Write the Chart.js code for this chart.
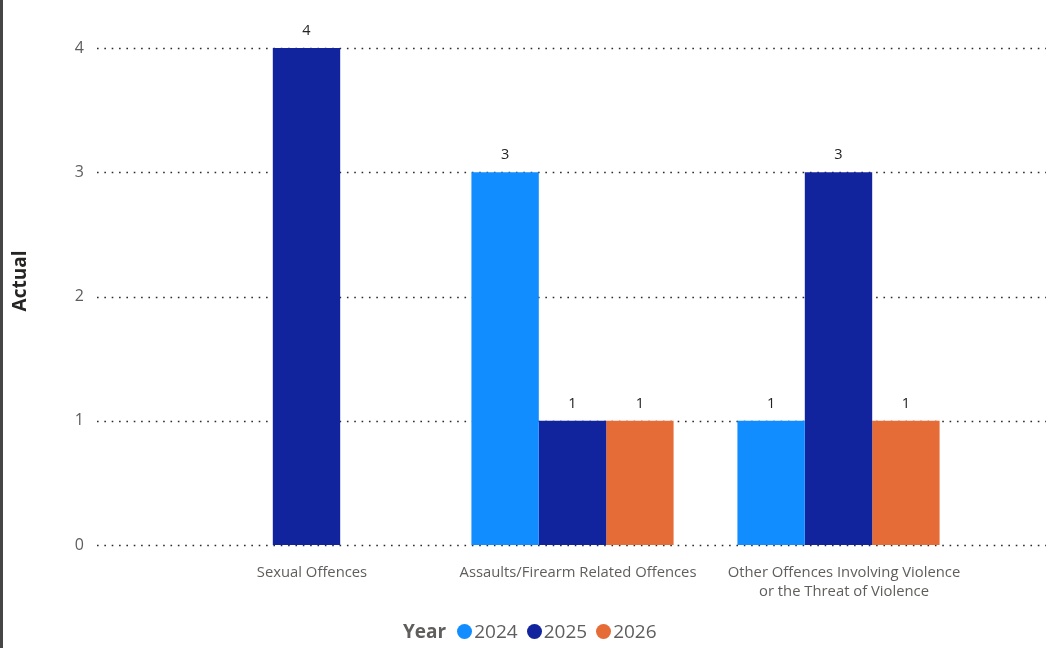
<!DOCTYPE html>
<html>
<head>
<meta charset="utf-8">
<script src="https://cdn.jsdelivr.net/npm/chart.js@4.4.1/dist/chart.umd.min.js"></script>
<style>
  html, body { margin: 0; padding: 0; background: #fff; }
  #wrap { position: relative; width: 1051px; height: 648px; overflow: hidden; }
  #edge { position: absolute; left: 0; top: 0; width: 3px; height: 648px; background: #464646; }
  #legend { position: absolute; left: 403px; top: 618px; display: flex; align-items: center;
            font-family: "Open Sans", "Noto Sans", sans-serif; font-size: 19px; color: #605E5C; line-height: 26px; }
  #legend .ttl { font-weight: 700; margin-right: 11px; color: #605E5C; }
  #legend .item { display: flex; align-items: center; margin-right: 9px; }
  #legend .dot { width: 15px; height: 15px; border-radius: 50%; margin-right: 2px; }
</style>
</head>
<body>
<div id="wrap">
  <canvas id="c" width="1051" height="648"></canvas>
  <div id="edge"></div>
  <div id="legend"></div>
</div>
<script>
const legendTitle = 'Year';
const categories = ['Sexual Offences', 'Assaults/Firearm Related Offences', ['Other Offences Involving Violence', 'or the Threat of Violence']];
const seriesNames = ['2024', '2025', '2026'];
const values2024 = [null, 3, 1];
const values2025 = [4, 1, 3];
const values2026 = [null, 1, 1];
const seriesColors = ['#118DFF', '#12239E', '#E66C37'];
const yTicks = [0, 1, 2, 3, 4];
const yTitle = 'Actual';

const FONT = '"Open Sans", "Noto Sans", sans-serif';

const gridPlugin = {
  id: 'dottedGrid',
  beforeDatasetsDraw(chart) {
    const ctx = chart.ctx, y = chart.scales.y;
    ctx.save();
    ctx.strokeStyle = '#2b2b2b';
    ctx.lineWidth = 1.6;
    ctx.setLineDash([1.6, 5.75]);
    yTicks.forEach(v => {
      const py = Math.round(y.getPixelForValue(v)) + 0.5;
      ctx.beginPath();
      ctx.moveTo(97, py);
      ctx.lineTo(1046, py);
      ctx.stroke();
    });
    ctx.restore();
  }
};

const labelPlugin = {
  id: 'valueLabels',
  afterDatasetsDraw(chart) {
    const ctx = chart.ctx;
    ctx.save();
    ctx.fillStyle = '#252423';
    ctx.font = '14.5px ' + FONT;
    ctx.textAlign = 'center';
    ctx.textBaseline = 'alphabetic';
    chart.data.datasets.forEach((ds, i) => {
      const meta = chart.getDatasetMeta(i);
      meta.data.forEach((el, j) => {
        const v = ds.data[j];
        if (v === null || v === undefined) return;
        ctx.fillText(String(v), el.x, el.y - 13);
      });
    });
    ctx.restore();
  }
};

const chart = new Chart(document.getElementById('c'), {
  type: 'bar',
  data: {
    labels: categories,
    datasets: [
      { label: seriesNames[0], data: values2024, backgroundColor: seriesColors[0] },
      { label: seriesNames[1], data: values2025, backgroundColor: seriesColors[1] },
      { label: seriesNames[2], data: values2026, backgroundColor: seriesColors[2] }
    ]
  },
  options: {
    responsive: false,
    animation: false,
    devicePixelRatio: 1,
    layout: { padding: { top: 17, right: 79.5, bottom: 0, left: 0 } },
    datasets: { bar: { categoryPercentage: 0.76, barPercentage: 1.0 } },
    plugins: { legend: { display: false }, tooltip: { enabled: false } },
    scales: {
      x: {
        grid: { display: false, drawTicks: false },
        border: { display: false },
        ticks: { color: '#605E5C', font: { family: FONT, size: 14.8, lineHeight: 1.3 }, padding: 18, labelOffset: 5.5, maxRotation: 0, autoSkip: false },
        afterFit(scale) { scale.height = 103; scale.paddingLeft = 0; scale.paddingRight = 0; }
      },
      y: {
        min: 0, max: 4.25,
        bounds: 'data',
        grid: { display: false, drawTicks: false },
        border: { display: false },
        ticks: { color: '#605E5C', font: { family: FONT, size: 16 }, padding: 89.5 },
        afterBuildTicks(scale) { scale.ticks = yTicks.map(v => ({ value: v })); },
        title: { display: true, text: yTitle, color: '#252423', font: { family: FONT, size: 19, weight: 'bold' }, padding: { top: 9.6, bottom: 0 } },
        afterFit(scale) { scale.width = 173.5; scale.paddingTop = 0; scale.paddingBottom = 0; }
      }
    }
  },
  plugins: [gridPlugin, labelPlugin]
});

// legend built from the chart's datasets
const lg = document.getElementById('legend');
const t = document.createElement('span'); t.className = 'ttl'; t.textContent = legendTitle; lg.appendChild(t);
chart.data.datasets.forEach(ds => {
  const it = document.createElement('span'); it.className = 'item';
  const d = document.createElement('span'); d.className = 'dot'; d.style.background = ds.backgroundColor;
  const s = document.createElement('span'); s.textContent = ds.label;
  it.appendChild(d); it.appendChild(s); lg.appendChild(it);
});
</script>
</body>
</html>
